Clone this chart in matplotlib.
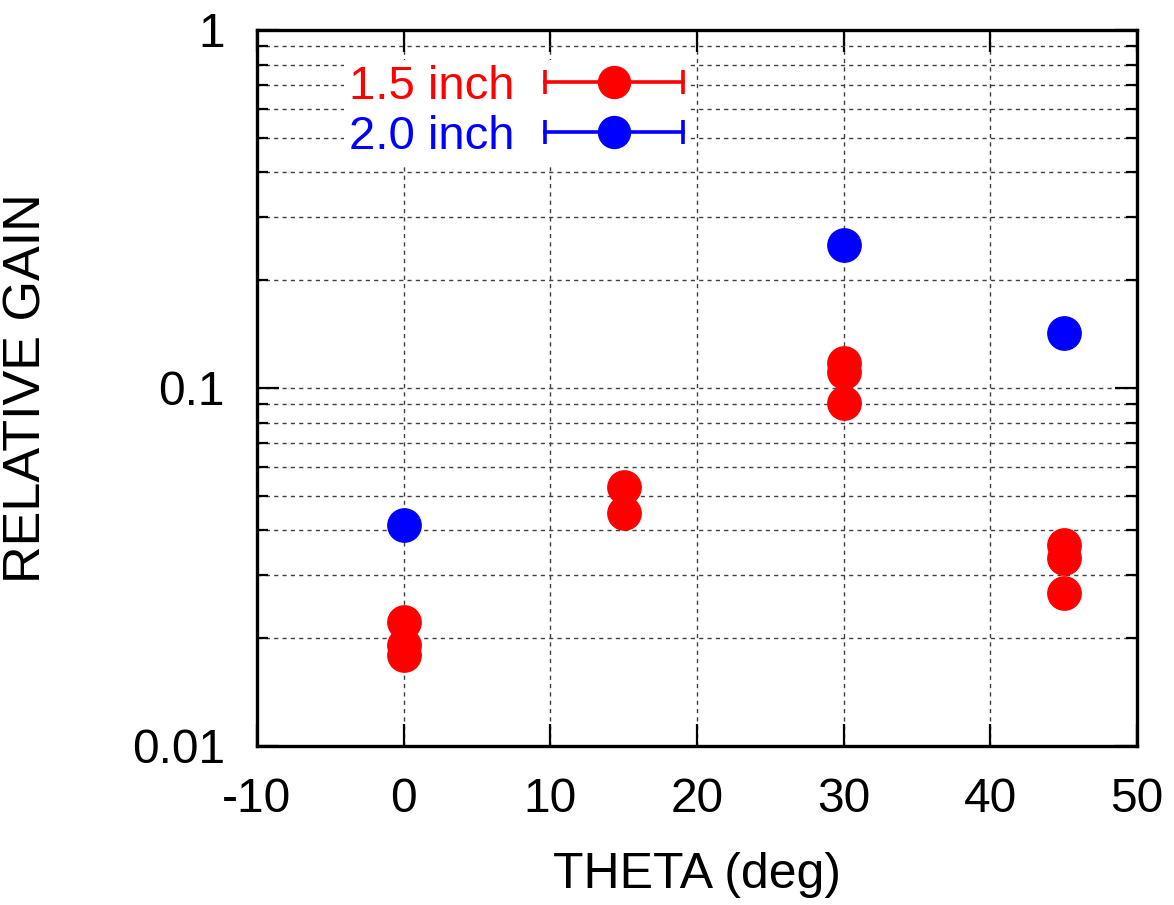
import matplotlib
matplotlib.use("Agg")
import matplotlib.pyplot as plt
from matplotlib.legend_handler import HandlerBase
from matplotlib.lines import Line2D
from matplotlib.ticker import LogLocator, FixedFormatter, FixedLocator, NullFormatter

plt.rcParams['font.family'] = ['Liberation Sans', 'DejaVu Sans']
plt.rcParams['axes.unicode_minus'] = False

# readings
theta_15 = [0, 0, 0, 15, 15, 30, 30, 30, 45, 45, 45]
gain_15 = [0.0222, 0.0191, 0.0180, 0.0529, 0.0448,
           0.1174, 0.1109, 0.0908, 0.0364, 0.0335, 0.0268]
theta_20 = [0, 30, 45]
gain_20 = [0.0414, 0.2507, 0.1425]

labels = ["1.5 inch", "2.0 inch"]
colors = ["#ff0000", "#0000ff"]

x_ticks = [-10, 0, 10, 20, 30, 40, 50]
y_ticks = [0.01, 0.1, 1]
y_tick_labels = ["0.01", "0.1", "1"]


class GnuKey(HandlerBase):
    # gnuplot style key: bar with end caps and a dot in the middle
    def create_artists(self, legend, orig_handle, xdescent, ydescent,
                       width, height, fontsize, trans):
        c = orig_handle.get_color()
        y = height / 2 - ydescent
        x0, x1 = -xdescent, width - xdescent
        bar = Line2D([x0, x1], [y, y], color=c, lw=2.6)
        caps = Line2D([x0, x1], [y, y], ls='none', marker='|',
                      markersize=17, mew=2.6, color=c)
        dot = Line2D([(x0 + x1) / 2], [y], ls='none', marker='o',
                     markersize=23, color=c)
        for a in (bar, caps, dot):
            a.set_transform(trans)
        return [bar, caps, dot]


fig = plt.figure(figsize=(11.74, 9.05), dpi=100)
ax = fig.add_axes([0.2189, 0.1757, 0.9685 - 0.2189, 0.9669 - 0.1757])

h1, = ax.plot(theta_15, gain_15, 'o', ms=24, color=colors[0], zorder=3)
h2, = ax.plot(theta_20, gain_20, 'o', ms=24, color=colors[1], zorder=3)

ax.set_yscale('log')
ax.set_xlim(-10, 50)
ax.set_ylim(0.01, 1)

ax.xaxis.set_major_locator(FixedLocator(x_ticks))
ax.yaxis.set_major_locator(FixedLocator(y_ticks))
ax.yaxis.set_major_formatter(FixedFormatter(y_tick_labels))
ax.yaxis.set_minor_locator(LogLocator(base=10, subs=range(2, 10)))
ax.yaxis.set_minor_formatter(NullFormatter())

ax.tick_params(which='both', direction='in', top=True, right=True,
               labelsize=34.5, width=1.6, color='black')
ax.tick_params(which='major', length=16)
ax.tick_params(which='minor', length=8)
ax.tick_params(axis='x', pad=22)
ax.tick_params(axis='y', pad=23)

for s in ax.spines.values():
    s.set_linewidth(2.4)

ax.grid(True, which='major', axis='x', color='#404040', lw=1.0, ls=(0, (3, 3)))
ax.grid(True, which='both', axis='y', color='#404040', lw=1.0, ls=(0, (3, 3)))
ax.set_axisbelow(True)

ax.set_xlabel("THETA (deg)", fontsize=36, labelpad=22)
ax.set_ylabel("RELATIVE GAIN", fontsize=37.5, labelpad=58)

leg = ax.legend([h1, h2], labels, handler_map={Line2D: GnuKey()},
                loc='upper right', bbox_to_anchor=(0.4898, 0.958),
                fontsize=34, markerfirst=False, handlelength=2.92,
                handletextpad=0.65, labelspacing=0.13, borderpad=0.1,
                borderaxespad=0, frameon=True, fancybox=False)
leg.get_frame().set_facecolor('white')
leg.get_frame().set_edgecolor('none')
leg.get_frame().set_alpha(1)
leg.set_zorder(5)
for t, c in zip(leg.get_texts(), colors):
    t.set_color(c)

fig.savefig("out.png", dpi=100)
